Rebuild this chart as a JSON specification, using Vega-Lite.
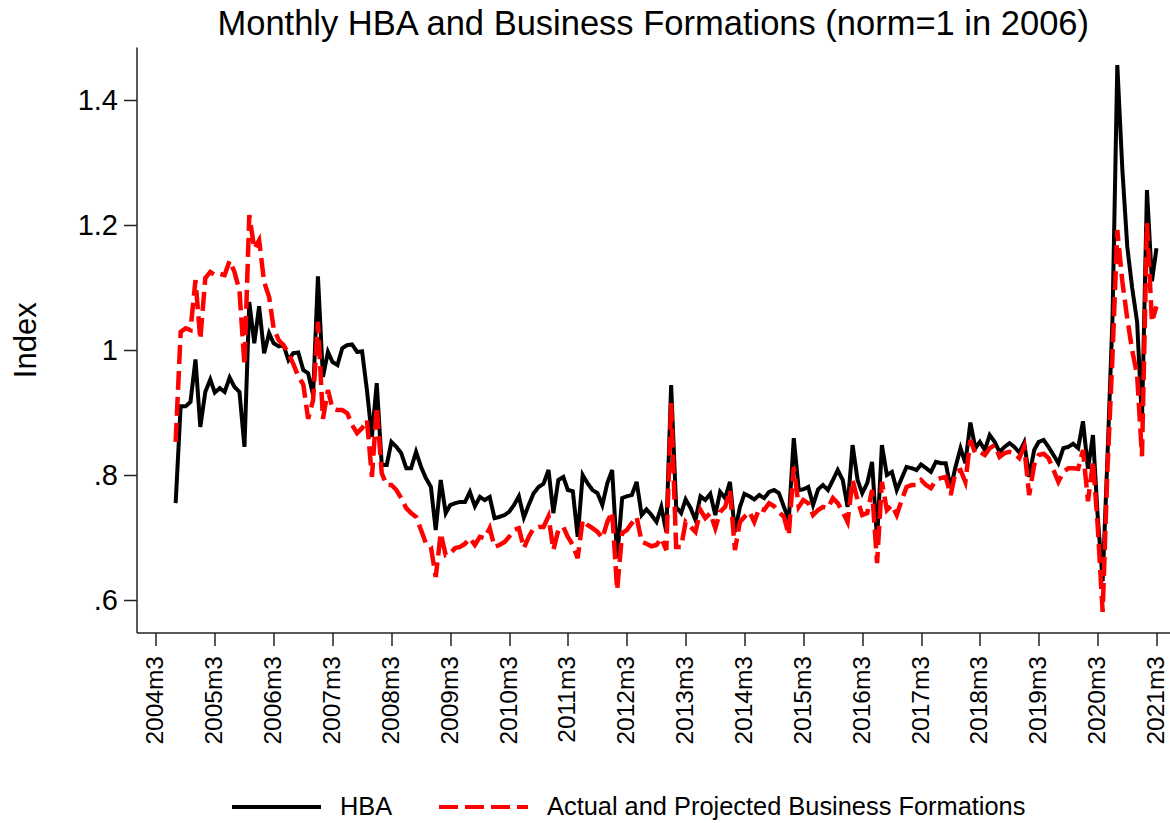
{
  "$schema": "https://vega.github.io/schema/vega-lite/v6.json",
  "autosize": {"type": "none"},
  "width": 1033.5,
  "height": 585.5,
  "padding": {"left": 136.5, "top": 47, "right": 0, "bottom": 190.5},
  "background": "#ffffff",
  "config": {"view": {"stroke": null}, "font": "Liberation Sans"},
  "title": {"text": "Monthly HBA and Business Formations (norm=1 in 2006)", "fontSize": 34.5, "font": "Liberation Sans", "fontWeight": "normal", "color": "#000000", "anchor": "middle", "frame": "group", "baseline": "alphabetic", "offset": -22},
  "data": {"values": [
    {"date":"2004-07","hba":0.755,"bf":0.853},
    {"date":"2004-08","hba":0.910,"bf":1.029},
    {"date":"2004-09","hba":0.910,"bf":1.035},
    {"date":"2004-10","hba":0.917,"bf":1.032},
    {"date":"2004-11","hba":0.985,"bf":1.112},
    {"date":"2004-12","hba":0.877,"bf":1.017},
    {"date":"2005-01","hba":0.933,"bf":1.115},
    {"date":"2005-02","hba":0.953,"bf":1.125},
    {"date":"2005-03","hba":0.932,"bf":1.120},
    {"date":"2005-04","hba":0.939,"bf":1.122},
    {"date":"2005-05","hba":0.933,"bf":1.120},
    {"date":"2005-06","hba":0.956,"bf":1.143},
    {"date":"2005-07","hba":0.941,"bf":1.125},
    {"date":"2005-08","hba":0.933,"bf":1.095},
    {"date":"2005-09","hba":0.845,"bf":0.976},
    {"date":"2005-10","hba":1.077,"bf":1.216},
    {"date":"2005-11","hba":1.011,"bf":1.162},
    {"date":"2005-12","hba":1.070,"bf":1.176},
    {"date":"2006-01","hba":0.995,"bf":1.109},
    {"date":"2006-02","hba":1.027,"bf":1.085},
    {"date":"2006-03","hba":1.011,"bf":1.035},
    {"date":"2006-04","hba":1.006,"bf":1.016},
    {"date":"2006-05","hba":1.008,"bf":1.008},
    {"date":"2006-06","hba":0.984,"bf":0.995},
    {"date":"2006-07","hba":0.995,"bf":0.978},
    {"date":"2006-08","hba":0.996,"bf":0.958},
    {"date":"2006-09","hba":0.968,"bf":0.945},
    {"date":"2006-10","hba":0.963,"bf":0.890},
    {"date":"2006-11","hba":0.928,"bf":0.920},
    {"date":"2006-12","hba":1.118,"bf":1.045},
    {"date":"2007-01","hba":0.957,"bf":0.890},
    {"date":"2007-02","hba":0.997,"bf":0.936},
    {"date":"2007-03","hba":0.981,"bf":0.907},
    {"date":"2007-04","hba":0.976,"bf":0.904},
    {"date":"2007-05","hba":1.003,"bf":0.904},
    {"date":"2007-06","hba":1.008,"bf":0.899},
    {"date":"2007-07","hba":1.009,"bf":0.880},
    {"date":"2007-08","hba":0.997,"bf":0.867},
    {"date":"2007-09","hba":0.998,"bf":0.875},
    {"date":"2007-10","hba":0.936,"bf":0.888},
    {"date":"2007-11","hba":0.861,"bf":0.797},
    {"date":"2007-12","hba":0.947,"bf":0.909},
    {"date":"2008-01","hba":0.816,"bf":0.803},
    {"date":"2008-02","hba":0.816,"bf":0.784},
    {"date":"2008-03","hba":0.853,"bf":0.784},
    {"date":"2008-04","hba":0.845,"bf":0.776},
    {"date":"2008-05","hba":0.835,"bf":0.763},
    {"date":"2008-06","hba":0.811,"bf":0.747},
    {"date":"2008-07","hba":0.811,"bf":0.739},
    {"date":"2008-08","hba":0.837,"bf":0.733},
    {"date":"2008-09","hba":0.813,"bf":0.712},
    {"date":"2008-10","hba":0.795,"bf":0.691},
    {"date":"2008-11","hba":0.781,"bf":0.685},
    {"date":"2008-12","hba":0.712,"bf":0.637},
    {"date":"2009-01","hba":0.792,"bf":0.707},
    {"date":"2009-02","hba":0.739,"bf":0.672},
    {"date":"2009-03","hba":0.752,"bf":0.675},
    {"date":"2009-04","hba":0.755,"bf":0.683},
    {"date":"2009-05","hba":0.757,"bf":0.685},
    {"date":"2009-06","hba":0.757,"bf":0.690},
    {"date":"2009-07","hba":0.773,"bf":0.699},
    {"date":"2009-08","hba":0.750,"bf":0.688},
    {"date":"2009-09","hba":0.765,"bf":0.701},
    {"date":"2009-10","hba":0.760,"bf":0.699},
    {"date":"2009-11","hba":0.765,"bf":0.715},
    {"date":"2009-12","hba":0.731,"bf":0.685},
    {"date":"2010-01","hba":0.733,"bf":0.688},
    {"date":"2010-02","hba":0.736,"bf":0.693},
    {"date":"2010-03","hba":0.741,"bf":0.701},
    {"date":"2010-04","hba":0.752,"bf":0.712},
    {"date":"2010-05","hba":0.766,"bf":0.715},
    {"date":"2010-06","hba":0.732,"bf":0.683},
    {"date":"2010-07","hba":0.752,"bf":0.701},
    {"date":"2010-08","hba":0.771,"bf":0.715},
    {"date":"2010-09","hba":0.781,"bf":0.717},
    {"date":"2010-10","hba":0.786,"bf":0.717},
    {"date":"2010-11","hba":0.808,"bf":0.734},
    {"date":"2010-12","hba":0.739,"bf":0.680},
    {"date":"2011-01","hba":0.792,"bf":0.712},
    {"date":"2011-02","hba":0.797,"bf":0.717},
    {"date":"2011-03","hba":0.776,"bf":0.701},
    {"date":"2011-04","hba":0.774,"bf":0.688},
    {"date":"2011-05","hba":0.701,"bf":0.667},
    {"date":"2011-06","hba":0.800,"bf":0.728},
    {"date":"2011-07","hba":0.787,"bf":0.720},
    {"date":"2011-08","hba":0.776,"bf":0.715},
    {"date":"2011-09","hba":0.771,"bf":0.709},
    {"date":"2011-10","hba":0.752,"bf":0.699},
    {"date":"2011-11","hba":0.787,"bf":0.725},
    {"date":"2011-12","hba":0.808,"bf":0.741},
    {"date":"2012-01","hba":0.668,"bf":0.616},
    {"date":"2012-02","hba":0.763,"bf":0.707},
    {"date":"2012-03","hba":0.766,"bf":0.712},
    {"date":"2012-04","hba":0.768,"bf":0.723},
    {"date":"2012-05","hba":0.789,"bf":0.733},
    {"date":"2012-06","hba":0.736,"bf":0.693},
    {"date":"2012-07","hba":0.745,"bf":0.690},
    {"date":"2012-08","hba":0.736,"bf":0.686},
    {"date":"2012-09","hba":0.725,"bf":0.688},
    {"date":"2012-10","hba":0.749,"bf":0.699},
    {"date":"2012-11","hba":0.709,"bf":0.680},
    {"date":"2012-12","hba":0.944,"bf":0.915},
    {"date":"2013-01","hba":0.749,"bf":0.685},
    {"date":"2013-02","hba":0.739,"bf":0.685},
    {"date":"2013-03","hba":0.761,"bf":0.725},
    {"date":"2013-04","hba":0.747,"bf":0.717},
    {"date":"2013-05","hba":0.728,"bf":0.709},
    {"date":"2013-06","hba":0.766,"bf":0.744},
    {"date":"2013-07","hba":0.760,"bf":0.731},
    {"date":"2013-08","hba":0.770,"bf":0.739},
    {"date":"2013-09","hba":0.736,"bf":0.715},
    {"date":"2013-10","hba":0.773,"bf":0.741},
    {"date":"2013-11","hba":0.763,"bf":0.749},
    {"date":"2013-12","hba":0.789,"bf":0.776},
    {"date":"2014-01","hba":0.709,"bf":0.680},
    {"date":"2014-02","hba":0.749,"bf":0.725},
    {"date":"2014-03","hba":0.770,"bf":0.733},
    {"date":"2014-04","hba":0.766,"bf":0.741},
    {"date":"2014-05","hba":0.761,"bf":0.725},
    {"date":"2014-06","hba":0.768,"bf":0.747},
    {"date":"2014-07","hba":0.763,"bf":0.744},
    {"date":"2014-08","hba":0.773,"bf":0.755},
    {"date":"2014-09","hba":0.776,"bf":0.750},
    {"date":"2014-10","hba":0.771,"bf":0.741},
    {"date":"2014-11","hba":0.749,"bf":0.733},
    {"date":"2014-12","hba":0.728,"bf":0.704},
    {"date":"2015-01","hba":0.859,"bf":0.813},
    {"date":"2015-02","hba":0.776,"bf":0.749},
    {"date":"2015-03","hba":0.777,"bf":0.760},
    {"date":"2015-04","hba":0.781,"bf":0.755},
    {"date":"2015-05","hba":0.752,"bf":0.736},
    {"date":"2015-06","hba":0.777,"bf":0.744},
    {"date":"2015-07","hba":0.784,"bf":0.749},
    {"date":"2015-08","hba":0.776,"bf":0.747},
    {"date":"2015-09","hba":0.792,"bf":0.763},
    {"date":"2015-10","hba":0.808,"bf":0.755},
    {"date":"2015-11","hba":0.792,"bf":0.741},
    {"date":"2015-12","hba":0.749,"bf":0.725},
    {"date":"2016-01","hba":0.848,"bf":0.792},
    {"date":"2016-02","hba":0.792,"bf":0.760},
    {"date":"2016-03","hba":0.771,"bf":0.736},
    {"date":"2016-04","hba":0.787,"bf":0.739},
    {"date":"2016-05","hba":0.821,"bf":0.776},
    {"date":"2016-06","hba":0.696,"bf":0.659},
    {"date":"2016-07","hba":0.848,"bf":0.789},
    {"date":"2016-08","hba":0.800,"bf":0.744},
    {"date":"2016-09","hba":0.805,"bf":0.752},
    {"date":"2016-10","hba":0.776,"bf":0.736},
    {"date":"2016-11","hba":0.795,"bf":0.760},
    {"date":"2016-12","hba":0.813,"bf":0.781},
    {"date":"2017-01","hba":0.811,"bf":0.784},
    {"date":"2017-02","hba":0.808,"bf":0.784},
    {"date":"2017-03","hba":0.817,"bf":0.792},
    {"date":"2017-04","hba":0.811,"bf":0.784},
    {"date":"2017-05","hba":0.805,"bf":0.779},
    {"date":"2017-06","hba":0.821,"bf":0.792},
    {"date":"2017-07","hba":0.819,"bf":0.795},
    {"date":"2017-08","hba":0.819,"bf":0.797},
    {"date":"2017-09","hba":0.779,"bf":0.768},
    {"date":"2017-10","hba":0.813,"bf":0.805},
    {"date":"2017-11","hba":0.843,"bf":0.808},
    {"date":"2017-12","hba":0.819,"bf":0.789},
    {"date":"2018-01","hba":0.884,"bf":0.856},
    {"date":"2018-02","hba":0.843,"bf":0.835},
    {"date":"2018-03","hba":0.853,"bf":0.837},
    {"date":"2018-04","hba":0.840,"bf":0.832},
    {"date":"2018-05","hba":0.864,"bf":0.843},
    {"date":"2018-06","hba":0.853,"bf":0.848},
    {"date":"2018-07","hba":0.837,"bf":0.829},
    {"date":"2018-08","hba":0.845,"bf":0.835},
    {"date":"2018-09","hba":0.851,"bf":0.837},
    {"date":"2018-10","hba":0.845,"bf":0.835},
    {"date":"2018-11","hba":0.836,"bf":0.827},
    {"date":"2018-12","hba":0.852,"bf":0.845},
    {"date":"2019-01","hba":0.797,"bf":0.768},
    {"date":"2019-02","hba":0.840,"bf":0.816},
    {"date":"2019-03","hba":0.853,"bf":0.832},
    {"date":"2019-04","hba":0.856,"bf":0.834},
    {"date":"2019-05","hba":0.845,"bf":0.827},
    {"date":"2019-06","hba":0.832,"bf":0.808},
    {"date":"2019-07","hba":0.819,"bf":0.789},
    {"date":"2019-08","hba":0.843,"bf":0.805},
    {"date":"2019-09","hba":0.845,"bf":0.811},
    {"date":"2019-10","hba":0.850,"bf":0.811},
    {"date":"2019-11","hba":0.843,"bf":0.810},
    {"date":"2019-12","hba":0.886,"bf":0.840},
    {"date":"2020-01","hba":0.810,"bf":0.758},
    {"date":"2020-02","hba":0.864,"bf":0.822},
    {"date":"2020-03","hba":0.735,"bf":0.720},
    {"date":"2020-04","hba":0.630,"bf":0.581},
    {"date":"2020-05","hba":0.830,"bf":0.810},
    {"date":"2020-06","hba":1.050,"bf":0.990},
    {"date":"2020-07","hba":1.456,"bf":1.192},
    {"date":"2020-08","hba":1.290,"bf":1.110},
    {"date":"2020-09","hba":1.165,"bf":1.050},
    {"date":"2020-10","hba":1.100,"bf":1.000},
    {"date":"2020-11","hba":1.045,"bf":0.960},
    {"date":"2020-12","hba":0.886,"bf":0.830},
    {"date":"2021-01","hba":1.256,"bf":1.203},
    {"date":"2021-02","hba":1.110,"bf":1.045},
    {"date":"2021-03","hba":1.163,"bf":1.070}
  ]},
  "encoding": {
    "x": {
      "field": "date", "type": "temporal",
      "scale": {"type": "utc", "domain": [{"year": 2003, "month": 11, "date": 1, "utc": true}, {"year": 2021, "month": 5, "date": 24, "utc": true}]},
      "axis": {
        "title": null,
        "values": [
          {"year": 2004, "month": 3, "date": 1, "utc": true},
          {"year": 2005, "month": 3, "date": 1, "utc": true},
          {"year": 2006, "month": 3, "date": 1, "utc": true},
          {"year": 2007, "month": 3, "date": 1, "utc": true},
          {"year": 2008, "month": 3, "date": 1, "utc": true},
          {"year": 2009, "month": 3, "date": 1, "utc": true},
          {"year": 2010, "month": 3, "date": 1, "utc": true},
          {"year": 2011, "month": 3, "date": 1, "utc": true},
          {"year": 2012, "month": 3, "date": 1, "utc": true},
          {"year": 2013, "month": 3, "date": 1, "utc": true},
          {"year": 2014, "month": 3, "date": 1, "utc": true},
          {"year": 2015, "month": 3, "date": 1, "utc": true},
          {"year": 2016, "month": 3, "date": 1, "utc": true},
          {"year": 2017, "month": 3, "date": 1, "utc": true},
          {"year": 2018, "month": 3, "date": 1, "utc": true},
          {"year": 2019, "month": 3, "date": 1, "utc": true},
          {"year": 2020, "month": 3, "date": 1, "utc": true},
          {"year": 2021, "month": 3, "date": 1, "utc": true}
        ],
        "labelExpr": "utcFormat(datum.value, '%Y') + 'm3'",
        "labelAngle": 270,
        "labelAlign": "right",
        "labelBaseline": "middle",
        "labelFontSize": 24.5,
        "labelFont": "Liberation Sans",
        "labelColor": "#000000",
        "labelPadding": 10,
        "labelOverlap": false,
        "labelFlush": false,
        "labelLimit": 0,
        "tickSize": 13,
        "tickWidth": 1.5,
        "tickColor": "#222222",
        "domainColor": "#222222",
        "domainWidth": 1.5,
        "grid": false
      }
    }
  },
  "layer": [
    {
      "mark": {"type": "line", "strokeWidth": 4, "strokeJoin": "miter", "strokeMiterLimit": 4},
      "encoding": {
        "y": {
          "field": "hba", "type": "quantitative",
          "scale": {"domain": [0.548, 1.485], "nice": false, "zero": false},
          "axis": {
            "title": "Index",
            "titleFontSize": 31, "titleFont": "Liberation Sans", "titleFontWeight": "normal", "titleColor": "#000000",
            "titleAngle": 270, "titleX": -101.5, "titleY": 292.75, "titleBaseline": "alphabetic", "titleAlign": "center",
            "values": [0.6, 0.8, 1, 1.2, 1.4],
            "labelExpr": "datum.value == 1 ? '1' : (datum.value < 1 ? substring(format(datum.value, '.1f'), 1) : format(datum.value, '.1f'))",
            "labelFontSize": 29, "labelFont": "Liberation Sans", "labelColor": "#000000",
            "labelPadding": 6, "tickSize": 13, "tickWidth": 1.5, "tickColor": "#222222",
            "domainColor": "#222222", "domainWidth": 1.5, "grid": false
          }
        },
        "color": {
          "datum": "HBA", "type": "nominal",
          "scale": {"domain": ["HBA", "Actual and Projected Business Formations"], "range": ["#000000", "#ff0000"]},
          "legend": {
            "orient": "none", "legendX": 93.5, "legendY": 713.5, "direction": "horizontal", "title": null,
            "symbolType": "stroke", "symbolSize": 7921, "symbolStrokeWidth": 4,
            "labelFontSize": 25.4, "labelFont": "Liberation Sans", "labelColor": "#000000", "labelLimit": 0,
            "labelOffset": 17, "columnPadding": 38, "padding": 0
          }
        },
        "strokeDash": {
          "datum": "HBA", "type": "nominal",
          "scale": {"domain": ["HBA", "Actual and Projected Business Formations"], "range": [[1, 0], [19, 7]]}
        }
      }
    },
    {
      "mark": {"type": "line", "strokeWidth": 4.5},
      "encoding": {
        "y": {"field": "bf", "type": "quantitative"},
        "color": {"datum": "Actual and Projected Business Formations", "type": "nominal"},
        "strokeDash": {"datum": "Actual and Projected Business Formations", "type": "nominal"}
      }
    }
  ]
}
